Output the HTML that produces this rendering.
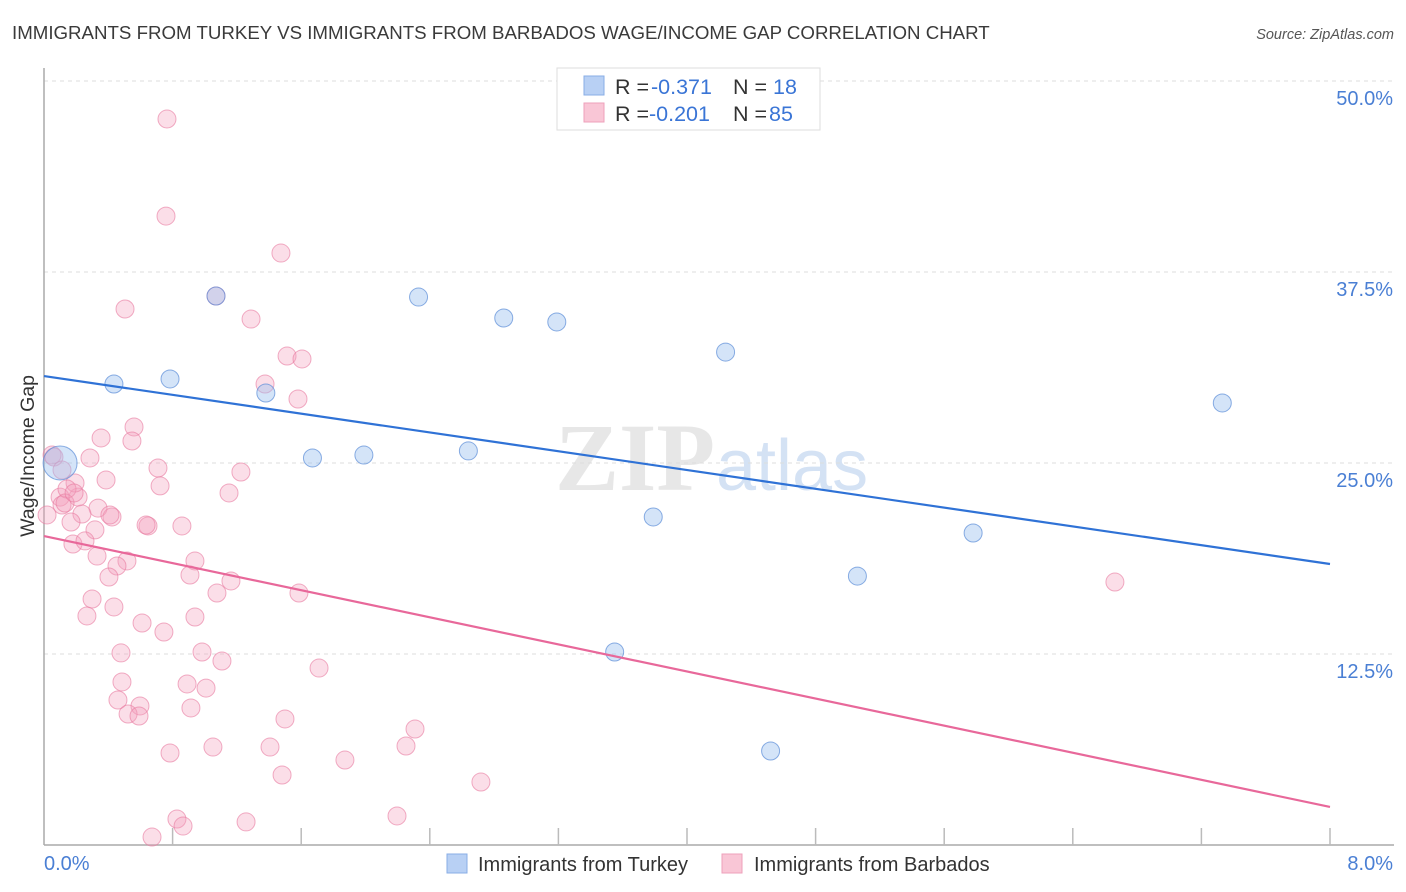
<!DOCTYPE html>
<html><head><meta charset="utf-8"><style>
body{margin:0;background:#fff;font-family:"Liberation Sans",sans-serif;}
#wrap{position:relative;width:1406px;height:892px;overflow:hidden;}
</style></head><body>
<div id="wrap">
<svg id="svg" width="1406" height="892" style="position:absolute;left:0;top:0"></svg>
</div>
<script>
const xTickLabels=["0.0%","8.0%"];
const yTicks=[12.5,25,37.5,50];
const yTickLabels=["12.5%","25.0%","37.5%","50.0%"];
const blueX=[0.10,0.435,0.784,1.07,1.38,1.67,1.99,2.33,2.64,2.86,3.19,3.79,4.24,4.52,5.06,5.78,7.33,3.55];
const blueY=[25.0,30.17,30.5,35.93,29.58,25.33,25.52,35.86,25.79,34.49,34.23,21.47,32.26,6.15,17.6,20.42,28.93,12.63];
const pinkX=[0.765,0.759,1.474,0.504,1.07,1.288,1.512,1.605,1.375,1.58,0.355,0.56,0.547,0.286,0.709,1.225,0.05,0.386,0.722,1.151,0.1,0.212,0.193,0.112,0.143,0.131,0.336,0.423,0.236,0.019,0.168,0.317,0.647,0.635,0.858,0.18,0.255,0.33,0.516,0.454,0.939,0.404,0.908,1.163,1.076,1.586,0.299,0.435,0.267,0.939,0.61,0.746,0.479,0.983,1.107,1.711,0.485,0.89,1.008,0.46,0.597,0.914,0.523,0.591,1.499,2.308,0.784,1.051,1.406,2.252,1.872,1.481,2.718,6.662,2.196,0.827,0.865,1.257,0.672,0.062,0.112,0.187,0.41];
const pinkY=[47.51,41.16,38.74,35.08,35.93,34.42,32.0,31.81,30.17,29.19,26.64,27.36,26.44,25.33,24.67,24.41,25.52,23.89,23.5,23.04,22.77,22.77,23.69,22.25,23.3,22.38,22.05,21.47,21.66,21.6,21.14,20.62,20.88,20.94,20.88,19.7,19.9,18.91,18.59,18.26,18.59,17.54,17.67,17.28,16.49,16.49,16.1,15.58,14.99,14.92,14.53,13.94,12.57,12.63,12.04,11.58,10.67,10.54,10.27,9.49,9.1,8.97,8.57,8.44,8.25,7.59,6.02,6.41,6.41,6.48,5.56,4.58,4.12,17.21,1.9,1.7,1.24,1.51,0.52,25.39,24.54,23.04,21.6];
const blueTrend=[30.69,18.39];
const pinkTrend=[20.22,2.49];

const NS="http://www.w3.org/2000/svg";
const svg=document.getElementById('svg');
const X0=44,X1=1330,Y0=845,PX_PER=191/12.5;
const sx=v=>X0+(v/8)*(X1-X0);
const sy=v=>Y0-v*PX_PER;
function mk(tag,attrs,parent){const e=document.createElementNS(NS,tag);for(const k in attrs)e.setAttribute(k,attrs[k]);(parent||svg).appendChild(e);return e;}
function txt(s,attrs){const e=mk('text',attrs);e.textContent=s;return e;}

let t=txt("IMMIGRANTS FROM TURKEY VS IMMIGRANTS FROM BARBADOS WAGE/INCOME GAP CORRELATION CHART",{x:12,y:39,'font-size':18.7,fill:'#3a3a3a'});


t=txt("Source: ZipAtlas.com",{x:1394,y:39,'font-size':14.5,fill:'#555','font-style':'italic','text-anchor':'end'});



t=txt("ZIP",{x:555,y:490,'font-size':96,fill:'#d8d8d8','font-family':'Liberation Serif, serif','font-weight':'bold',opacity:0.6});


t=txt("atlas",{x:716,y:490,'font-size':72,fill:'#b9cfee',opacity:0.6});



yTicks.forEach((v,i)=>{
  const l=mk('line',{x1:X0,x2:1394,y1:sy(v),y2:sy(v),stroke:'#ddd','stroke-dasharray':'4,4'});
  
  
  const tl=txt(yTickLabels[i],{x:1393,y:sy(v)+24,'font-size':20,fill:'#4a7fd4','text-anchor':'end'});
  
  
});
let ax=mk('line',{x1:X0,x2:X0,y1:68,y2:Y0,stroke:'#aaa','stroke-width':1.5});


ax=mk('line',{x1:X0,x2:1394,y1:Y0,y2:Y0,stroke:'#aaa','stroke-width':1.5});


for(let i=1;i<=10;i++){
  const tk=mk('line',{x1:sx(i*0.8),x2:sx(i*0.8),y1:Y0,y2:Y0-17,stroke:'#bbb','stroke-width':1.5});
  
  
}
t=txt(xTickLabels[0],{x:44,y:870,'font-size':20,fill:'#4a7fd4'});


t=txt(xTickLabels[1],{x:1393,y:870,'font-size':20,fill:'#4a7fd4','text-anchor':'end'});


t=txt("Wage/Income Gap",{x:0,y:0,'font-size':19.5,fill:'#333','text-anchor':'middle',transform:'translate(34,456) rotate(-90)'});



pinkX.forEach((v,i)=>{
  const c=mk('circle',{cx:sx(v),cy:sy(pinkY[i]),r:9,fill:'rgba(244,160,188,0.35)',stroke:'rgba(232,120,158,0.6)','stroke-width':1});
  
  
});
blueX.forEach((v,i)=>{
  const c=mk('circle',{cx:sx(v),cy:sy(blueY[i]),r:i===0?17:9,fill:'rgba(160,196,240,0.45)',stroke:'rgba(90,140,215,0.7)','stroke-width':1});
  
  
});
let tr=mk('line',{x1:sx(0),y1:sy(blueTrend[0]),x2:sx(8),y2:sy(blueTrend[1]),stroke:'#2f72d6','stroke-width':2.2});


tr=mk('line',{x1:sx(0),y1:sy(pinkTrend[0]),x2:sx(8),y2:sy(pinkTrend[1]),stroke:'#e8689a','stroke-width':2.2});



const lg=mk('g',{});


mk('rect',{x:557,y:68,width:263,height:62,fill:'#fff',stroke:'#ddd'},lg);
mk('rect',{x:584,y:76,width:20,height:19,fill:'#b8d0f4',stroke:'#88aee6'},lg);
mk('rect',{x:584,y:103,width:20,height:19,fill:'#f9c6d6',stroke:'#eea0bb'},lg);
function lt(s,x,y,c){const e=mk('text',{x:x,y:y,'font-size':21.5,fill:c},lg);e.textContent=s;return e;}
lt("R =",615,94,'#333');lt("-0.371",651,94,'#3a75d6');lt("N =",733,94,'#333');lt("18",773,94,'#3a75d6');
lt("R =",615,121,'#333');lt("-0.201",649,121,'#3a75d6');lt("N =",733,121,'#333');lt("85",769,121,'#3a75d6');

const bl=mk('g',{});


mk('rect',{x:447,y:854,width:20,height:19,fill:'#b8d0f4',stroke:'#88aee6'},bl);
let e=mk('text',{x:478,y:871,'font-size':20,fill:'#333'},bl);e.textContent="Immigrants from Turkey";
mk('rect',{x:722,y:854,width:20,height:19,fill:'#f9c6d6',stroke:'#eea0bb'},bl);
e=mk('text',{x:754,y:871,'font-size':20,fill:'#333'},bl);e.textContent="Immigrants from Barbados";
</script>
</body></html>
